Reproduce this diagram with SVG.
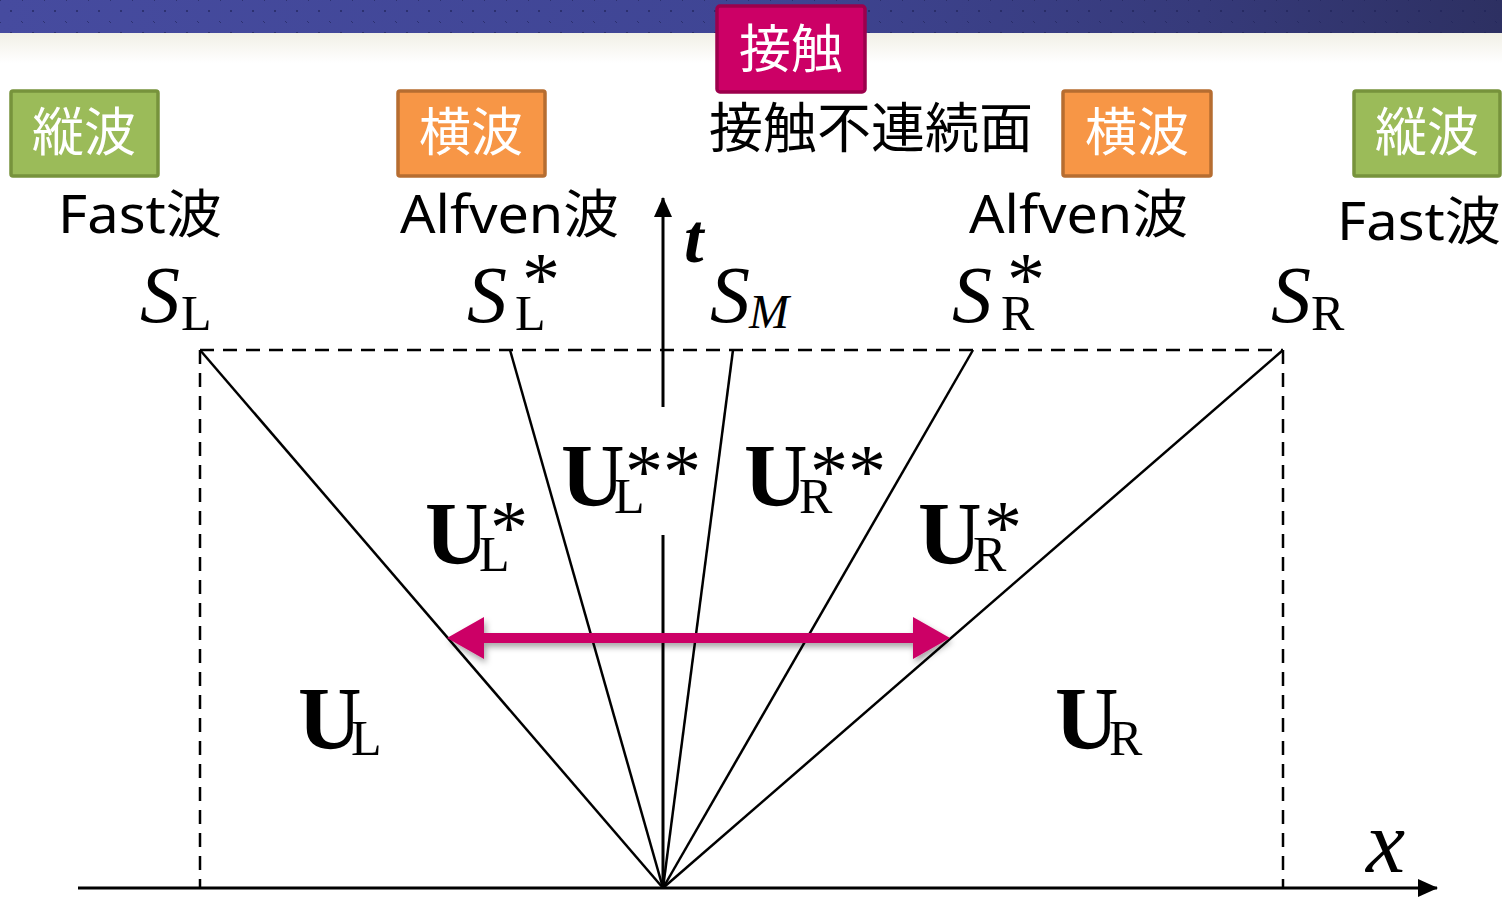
<svg xmlns="http://www.w3.org/2000/svg" width="1502" height="901" viewBox="0 0 1502 901">
<defs>
  <linearGradient id="bar" x1="0" y1="0" x2="1" y2="0">
    <stop offset="0" stop-color="#464b9f"/>
    <stop offset="0.5" stop-color="#3f4594"/>
    <stop offset="0.8" stop-color="#363a7a"/>
    <stop offset="1" stop-color="#2d3062"/>
  </linearGradient>
  <linearGradient id="fade" x1="0" y1="0" x2="0" y2="1">
    <stop offset="0" stop-color="#f1f0e6"/>
    <stop offset="1" stop-color="#ffffff"/>
  </linearGradient>
  <pattern id="dots" width="22" height="22" patternUnits="userSpaceOnUse">
    <rect x="10" y="10" width="2" height="2" fill="#1e2256" opacity="0.6"/>
    <rect x="21" y="21" width="2" height="2" fill="#1e2256" opacity="0.6"/>
    <rect x="-1" y="-1" width="2" height="2" fill="#1e2256" opacity="0.6"/>
  </pattern>
  <filter id="shadow" x="-10%" y="-50%" width="120%" height="200%">
    <feDropShadow dx="2" dy="4" stdDeviation="3" flood-color="#000" flood-opacity="0.35"/>
  </filter>
  <marker id="arrBlack" viewBox="0 0 20 18" refX="19" refY="9" markerWidth="20" markerHeight="18" markerUnits="userSpaceOnUse" orient="auto">
    <path d="M0,0 L20,9 L0,18 Z" fill="#000"/>
  </marker>
</defs>
<style>
  .boxtxt { font-family: "Noto Sans CJK JP", sans-serif; font-size: 52px; fill: #fff; text-anchor: middle; }
  .lbl { font-family: "Noto Sans", "Noto Sans CJK JP", sans-serif; font-size: 52px; fill: #000; }
  .cjk { font-family: "Noto Sans CJK JP", sans-serif; }
  .green { fill: #9bbb59; stroke: #77933c; stroke-width: 3.5; }
  .orange { fill: #f79646; stroke: #b66d31; stroke-width: 3.5; }
  .magenta { fill: #cc0066; stroke: #9c004c; stroke-width: 3.5; }
  .S { font-family: "Liberation Serif", "Times New Roman", serif; font-style: italic; font-size: 80px; }
  .Msub { font-family: "Liberation Serif", "Times New Roman", serif; font-style: italic; font-size: 48px; }
  .sub { font-family: "Liberation Serif", "Times New Roman", serif; font-size: 50px; }
  .star { font-family: "Liberation Serif", "Times New Roman", serif; font-size: 76px; }
  .U { font-family: "Liberation Serif", "Times New Roman", serif; font-weight: bold; font-size: 88px; }
  .wave { stroke: #000; stroke-width: 2.5; fill: none; }
  .dash { stroke: #000; stroke-width: 2.5; fill: none; stroke-dasharray: 14 9; }
  .axis { stroke: #000; stroke-width: 3; fill: none; }
</style>

<!-- header -->
<rect x="0" y="0" width="1502" height="33" fill="url(#bar)"/>
<rect x="0" y="0" width="1502" height="33" fill="url(#dots)"/>
<rect x="0" y="33" width="1502" height="30" fill="url(#fade)"/>

<g id="contact-box">
  <rect class="magenta" x="717" y="6" width="148" height="86" rx="3"/>
  <text class="boxtxt" x="791" y="68">接触</text>
</g>

<g id="fast-left">
  <rect class="green" x="11" y="91" width="147" height="85" rx="2"/>
  <text class="boxtxt" x="84" y="151">縦波</text>
  <text class="lbl" x="58" y="233" textLength="164" lengthAdjust="spacingAndGlyphs">Fast<tspan class="cjk">波</tspan></text>
</g>
<g id="alfven-left">
  <rect class="orange" x="398" y="91" width="147" height="85" rx="2"/>
  <text class="boxtxt" x="471" y="151">横波</text>
  <text class="lbl" x="400" y="233" textLength="219" lengthAdjust="spacingAndGlyphs">Alfven<tspan class="cjk">波</tspan></text>
</g>
<g id="contact-label">
  <text class="lbl cjk" x="709" y="148" style="font-size:54px">接触不連続面</text>
</g>
<g id="alfven-right">
  <rect class="orange" x="1063" y="91" width="148" height="85" rx="2"/>
  <text class="boxtxt" x="1137" y="151">横波</text>
  <text class="lbl" x="969" y="233" textLength="219" lengthAdjust="spacingAndGlyphs">Alfven<tspan class="cjk">波</tspan></text>
</g>
<g id="fast-right">
  <rect class="green" x="1354" y="91" width="146" height="85" rx="2"/>
  <text class="boxtxt" x="1427" y="151">縦波</text>
  <text class="lbl" x="1337" y="240" textLength="164" lengthAdjust="spacingAndGlyphs">Fast<tspan class="cjk">波</tspan></text>
</g>

<!-- wave speed labels -->
<g id="SL"><text class="S" x="140" y="322">S</text><text class="sub" x="181" y="330">L</text></g>
<g id="SLs"><text class="S" x="467" y="322">S</text><text class="sub" x="515" y="330">L</text><text class="star" x="522" y="305">*</text></g>
<g id="SM"><text class="S" x="710" y="322">S</text><text class="Msub" x="749" y="328">M</text></g>
<g id="SRs"><text class="S" x="952" y="322">S</text><text class="sub" x="1001" y="330">R</text><text class="star" x="1007" y="305">*</text></g>
<g id="SR"><text class="S" x="1271" y="322">S</text><text class="sub" x="1311" y="330">R</text></g>

<!-- connectors / lines -->
<g id="connectors">
  <path class="dash" d="M200,350 H1283"/>
  <path class="dash" d="M200,350 V888"/>
  <path class="dash" d="M1283,350 V888"/>
  <path class="wave" d="M663,888 L200,350"/>
  <path class="wave" d="M663,888 L510,350"/>
  <path class="wave" d="M663,888 L733,350"/>
  <path class="wave" d="M663,888 L973,350"/>
  <path class="wave" d="M663,888 L1283,350"/>
  <path class="axis" d="M663,407 V198" marker-end="url(#arrBlack)"/>
  <path class="axis" d="M663,535 V888"/>
  <path class="axis" d="M78,888 H1437" marker-end="url(#arrBlack)"/>
  <g filter="url(#shadow)">
    <path d="M447,638 L484,617 L484,633 L913,633 L913,617 L950,638 L913,659 L913,643 L484,643 L484,659 Z" fill="#cc0066"/>
  </g>
</g>

<!-- axis labels -->
<g id="t-label"><text x="684" y="262" font-family="Liberation Serif, serif" font-style="italic" font-weight="bold" font-size="70">t</text></g>
<g id="x-label"><text x="1366" y="872" font-family="Liberation Serif, serif" font-style="italic" font-size="88">x</text></g>

<!-- state labels -->
<g id="UL"><text class="U" x="298" y="748">U</text><text class="sub" x="351" y="755">L</text></g>
<g id="ULs"><text class="U" x="425" y="563">U</text><text class="sub" x="479" y="571">L</text><text class="star" x="490" y="553">*</text></g>
<g id="ULss"><text class="U" x="561" y="505">U</text><text class="sub" x="614" y="513">L</text><text class="star" x="625" y="497">**</text></g>
<g id="URss"><text class="U" x="744" y="505">U</text><text class="sub" x="799" y="513">R</text><text class="star" x="810" y="497">**</text></g>
<g id="URs"><text class="U" x="918" y="563">U</text><text class="sub" x="973" y="571">R</text><text class="star" x="984" y="553">*</text></g>
<g id="UR"><text class="U" x="1055" y="748">U</text><text class="sub" x="1109" y="755">R</text></g>
</svg>
